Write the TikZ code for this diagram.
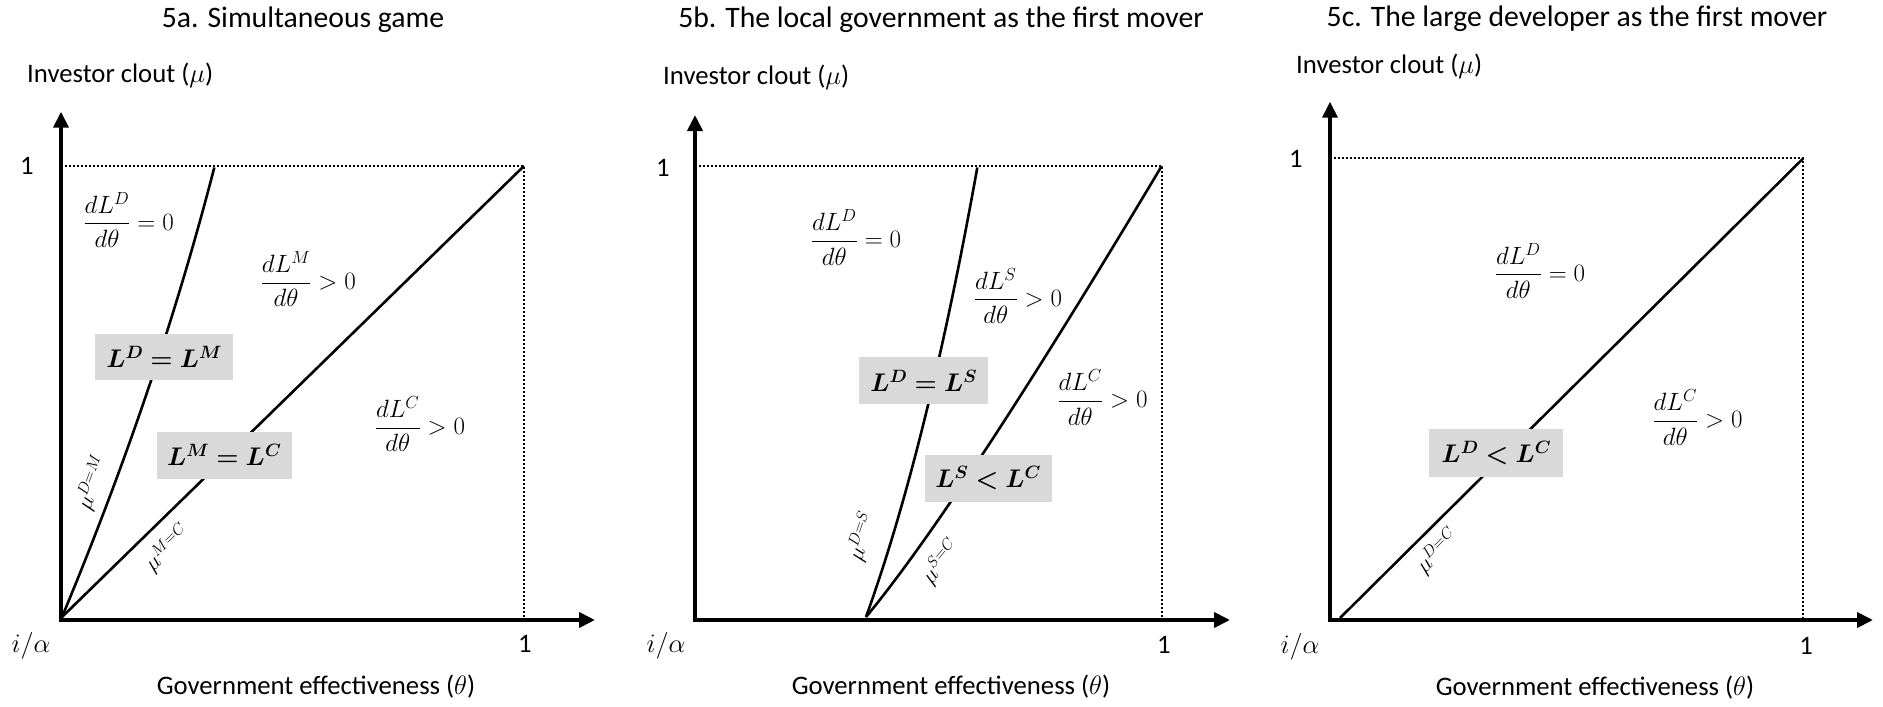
\RequirePackage{fix-cm}
\documentclass[tikz,border=0pt]{standalone}
\usepackage[no-math]{fontspec}
\setmainfont{Carlito}
\usepackage{amsmath}
\usepackage{bm}
\usetikzlibrary{arrows.meta}
\definecolor{boxgray}{HTML}{D9D9D9}
\tikzset{
  axisline/.style={line width=3.8pt, line join=miter,
    {Triangle[width=15pt,length=16pt]}-{Triangle[width=15pt,length=16pt]}},
  curve/.style={line width=2.6pt},
  dotline/.style={line width=1.8pt, dash pattern=on 1.8pt off 2.2pt},
  title/.style={font=\fontsize{29.7}{32}\selectfont, anchor=base, inner sep=0pt},
  axlabel/.style={font=\fontsize{26.7}{30}\selectfont, anchor=base, inner sep=0pt},
  axlabelw/.style={font=\fontsize{26.7}{30}\selectfont, anchor=base west, inner sep=0pt},
  fraclabel/.style={font=\fontsize{25}{29}\selectfont, anchor=base, inner sep=0pt},
  eqbox/.style={fill=boxgray, font=\fontsize{25.5}{28}\selectfont, inner sep=0pt},
  mulabel/.style={font=\fontsize{22.5}{24}\selectfont, inner sep=0pt},
}
\begin{document}
\begin{tikzpicture}[x=1pt,y=-1pt]
\useasboundingbox (0,0) rectangle (1883,707);

% ================= Panel a =================
\node[title] (ta) at (303,27.5) {5a. Simultaneous game};
\node[axlabelw] (ya) at (27,82.7) {Investor clout ($\mu$)};
\node[axlabel] (xa) at (316,694) {Government effectiveness ($\theta$)};
\node[axlabel] (onea) at (27,174) {1};
\node[axlabel] (onexa) at (525,652.5) {1};
\node[axlabel] (ia) at (31,652) {$i/\alpha$};

\coordinate (aO) at (61,620);
\coordinate (aY) at (61,111.7);
\coordinate (aX) at (595,620);
\coordinate (aTL) at (61,166);
\coordinate (aTR) at (524,166);
\coordinate (aBR) at (524,620);
\coordinate (aP) at (62,617);
\coordinate (aDM) at (214.3,167.5);

\draw[dotline] (aTL) -- (aTR) -- (aBR);
\draw[curve] (aP) .. controls (124.7,466.7) and (175.6,317.3) .. (aDM);
\draw[curve] (aP) -- (aTR);
\draw[axisline] (aY) -- (aO) -- (aX);

\node[fraclabel] (fa1) at (128.7,230.2) {$\dfrac{dL^D}{d\theta}=0$};
\node[fraclabel] (fa2) at (308.3,289.5) {$\dfrac{dL^M}{d\theta}>0$};
\node[fraclabel] (fa3) at (420,434.5) {$\dfrac{dL^C}{d\theta}>0$};

\node[eqbox, minimum width=138pt, minimum height=46pt] (ba1) at (164.2,357.2) {$\bm{L^D=L^M}$};
\node[eqbox, minimum width=135pt, minimum height=47pt] (ba2) at (224.2,455) {$\bm{L^M=L^C}$};

\node[mulabel, rotate=70] (ma1) at (92.5,483.3) {$\mu^{D=M}$};
\node[mulabel, rotate=44] (ma2) at (167.5,548.3) {$\mu^{M=C}$};

% ================= Panel b =================
\node[title] (tb) at (941,27.5) {5b. The local government as the first mover};
\node[axlabelw] (yb) at (663,84.3) {Investor clout ($\mu$)};
\node[axlabel] (xb) at (951,694) {Government effectiveness ($\theta$)};
\node[axlabel] (oneb) at (663,176) {1};
\node[axlabel] (onexb) at (1164,653) {1};
\node[axlabel] (ib) at (666,652) {$i/\alpha$};

\coordinate (bO) at (695,620);
\coordinate (bY) at (695,115);
\coordinate (bX) at (1230,620);
\coordinate (bTL) at (695,166);
\coordinate (bTR) at (1161.7,166);
\coordinate (bBR) at (1161.7,620);
\coordinate (bP) at (866,617);
\coordinate (bDS) at (977.3,167.5);

\draw[dotline] (bTL) -- (bTR) -- (bBR);
\draw[curve] (bP) .. controls (906.7,504.1) and (943.8,354.5) .. (bDS);
\draw[curve] (bP) .. controls (928.8,541) and (1026.8,392) .. (bTR);
\draw[axisline] (bY) -- (bO) -- (bX);

\node[fraclabel] (fb1) at (856,247.9) {$\dfrac{dL^D}{d\theta}=0$};
\node[fraclabel] (fb2) at (1018,306.2) {$\dfrac{dL^S}{d\theta}>0$};
\node[fraclabel] (fb3) at (1102.5,407.9) {$\dfrac{dL^C}{d\theta}>0$};

\node[eqbox, minimum width=129pt, minimum height=47pt] (bb1) at (923.8,380.8) {$\bm{L^D=L^S}$};
\node[eqbox, minimum width=127pt, minimum height=47pt] (bb2) at (988.2,478.3) {$\bm{L^S<L^C}$};

\node[mulabel, rotate=72] (mb1) at (862,536.7) {$\mu^{D=S}$};
\node[mulabel, rotate=51] (mb2) at (941,561.7) {$\mu^{S=C}$};

% ================= Panel c =================
\node[title] (tc) at (1577,26.7) {5c. The large developer as the first mover};
\node[axlabelw] (yc) at (1296,73.3) {Investor clout ($\mu$)};
\node[axlabel] (xc) at (1595,695) {Government effectiveness ($\theta$)};
\node[axlabel] (onec) at (1296,167.7) {1};
\node[axlabel] (onexc) at (1806,654) {1};
\node[axlabel] (ic) at (1300,653) {$i/\alpha$};

\coordinate (cO) at (1330,620);
\coordinate (cY) at (1330,101.7);
\coordinate (cX) at (1873,620);
\coordinate (cTL) at (1330,158.3);
\coordinate (cTR) at (1803.3,158.3);
\coordinate (cBR) at (1803.3,620);
\coordinate (cP) at (1340,618);

\draw[dotline] (cTL) -- (cTR) -- (cBR);
\draw[curve] (cP) -- (cTR);
\draw[axisline] (cY) -- (cO) -- (cX);

\node[fraclabel] (fc1) at (1540,281.2) {$\dfrac{dL^D}{d\theta}=0$};
\node[fraclabel] (fc2) at (1697.5,427.9) {$\dfrac{dL^C}{d\theta}>0$};

\node[eqbox, minimum width=134pt, minimum height=48pt] (cb1) at (1496.3,453.3) {$\bm{L^D<L^C}$};

\node[mulabel, rotate=45] (mc1) at (1437.5,551.7) {$\mu^{D=C}$};
\end{tikzpicture}
\end{document}
